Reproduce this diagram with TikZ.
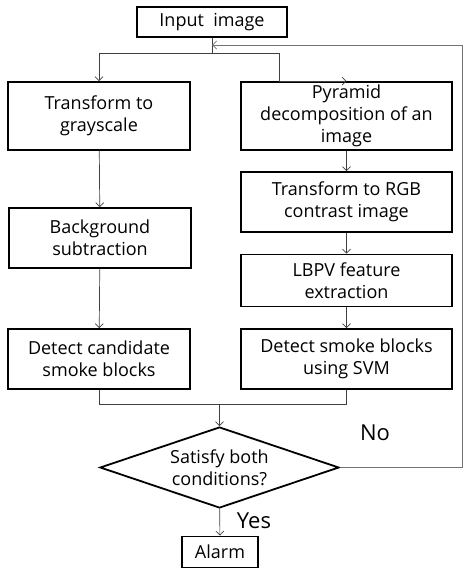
\documentclass[tikz,border=0pt]{standalone}
\usepackage{fontspec}
\setmainfont{Open Sans}
\usetikzlibrary{shapes.geometric,arrows.meta}

\begin{document}
\begin{tikzpicture}[
                x = 1pt, y = -1pt,
                > = {Straight Barb[length=4pt,width=8pt]},
                font = \fontsize{18}{22}\selectfont,
                box/.style={ rectangle, draw = black, line width = 1.8pt, align = center, inner sep = 0pt },
                lbox/.style={ box, minimum width = 182pt },
                rbox/.style={ box, minimum width = 211pt },
                decide/.style={ diamond, draw = black, line width = 1.8pt, align = center, inner sep = 0pt,
                                aspect = 2.95, minimum width = 239pt, minimum height = 81pt },
                link/.style={ draw = black!75, line width = .7pt },
                back/.style={ draw = black!55, line width = .8pt }
            ]
            \useasboundingbox (0, 0) rectangle (463, 570);

            \node (in)   [box, minimum width = 150pt, minimum height = 30pt] at (212, 22) {Input\ \ image};
            \node (gray) [lbox, minimum height = 68pt] at (99, 116)   {Transform to\\grayscale};
            \node (bg)   [lbox, minimum height = 60pt] at (100, 238)  {Background\\subtraction};
            \node (cand) [lbox, minimum height = 60pt] at (99, 359)   {Detect candidate\\smoke blocks};
            \node (pyr)  [rbox, minimum height = 68pt] at (346.5, 116) {Pyramid\\decomposition of an\\image};
            \node (rgb)  [rbox, minimum height = 60pt] at (346.5, 202) {Transform to RGB\\contrast image};
            \node (lbpv) [rbox, minimum height = 52pt] at (346.5, 280.5) {LBPV feature\\extraction};
            \node (svm)  [rbox, minimum height = 60pt] at (346.5, 359) {Detect smoke blocks\\using SVM};
            \node (dec)  [decide] at (219.5, 467.5) {Satisfy both\\conditions?};
            \node (alarm) [box, minimum width = 76pt, minimum height = 31pt] at (220, 552) {Alarm};

            \node (no)  [font = \fontsize{22}{24}\selectfont] at (375, 433) {No};
            \node (yes) [font = \fontsize{22}{24}\selectfont] at (254, 521) {Yes};

            \coordinate (split)  at (212, 53);
            \coordinate (rsplit) at (279, 53);
            \coordinate (fb)     at (212, 45);
            \coordinate (merge)  at (219.5, 404);
            \coordinate (edge)   at (462, 45);

            \draw [link]     (in) -- (split);
            \draw [link, ->] (split) -| (gray);
            \draw [link]     (split) -- (rsplit);
            \draw [link, ->] (rsplit) |- (pyr.north);
            \draw [link, ->] (gray) -- (bg);
            \draw [link, ->] (bg) -- (cand);
            \draw [link, ->] (pyr) -- (rgb);
            \draw [link, ->] (rgb) -- (lbpv);
            \draw [link, ->] (lbpv) -- (svm);
            \draw [link]     (cand) |- (merge);
            \draw [link]     (svm) |- (merge);
            \draw [link, ->] (merge) -- (dec);
            \draw [link, ->] (dec) -- (alarm);
            \draw [back, ->] (dec.east) -| (edge) -- (fb);
        \end{tikzpicture}
\end{document}
